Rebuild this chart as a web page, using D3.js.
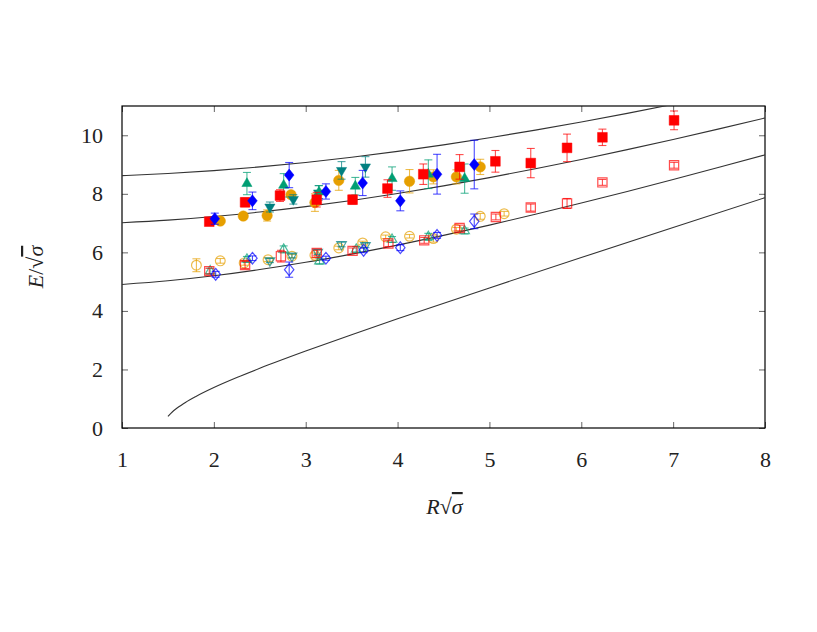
<!DOCTYPE html>
<html>
<head>
<meta charset="utf-8">
<script src="https://cdn.jsdelivr.net/npm/d3@7"></script>
<style>
  body { margin: 0; background: #fff; }
  svg text { font-family: "Liberation Serif", "DejaVu Serif", serif; }
</style>
</head>
<body>
<svg id="chart" width="817" height="632"></svg>
<script>
// string levels
const curveX0 = [1.5, 1.55, 1.6, 1.7, 1.8, 2.0, 2.25, 2.5, 3, 3.5, 4, 5, 6, 7, 8];
const curveY0 = [0.395, 0.555, 0.683, 0.892, 1.07, 1.381, 1.723, 2.039, 2.628, 3.187, 3.729, 4.786, 5.823, 6.849, 7.868];
const curveX = [1, 1.5, 2, 2.5, 3, 3.5, 4, 4.5, 5, 5.5, 6, 6.5, 7, 7.5, 8];
const curveY1 = [4.903, 5.029, 5.2, 5.412, 5.66, 5.941, 6.248, 6.58, 6.931, 7.3, 7.684, 8.08, 8.488, 8.905, 9.33];
const curveY2 = [7.012, 7.101, 7.223, 7.377, 7.561, 7.773, 8.011, 8.272, 8.554, 8.856, 9.174, 9.509, 9.857, 10.219, 10.591];
const curveY3 = [8.62, 8.692, 8.792, 8.919, 9.072, 9.249, 9.45, 9.672, 9.915, 10.176, 10.455, 10.749, 11.059, 11.38, 11.7];

// filled: excited states
const redX = [1.95, 2.34, 2.72, 3.12, 3.51, 3.89, 4.28, 4.675, 5.065, 5.45, 5.845, 6.23, 7.01];
const redY = [7.05, 7.71, 7.94, 7.80, 7.80, 8.18, 8.67, 8.92, 9.11, 9.05, 9.57, 9.93, 10.51];
const redE = [0.05, 0.15, 0.2, 0.25, 0.15, 0.3, 0.35, 0.42, 0.37, 0.5, 0.47, 0.28, 0.32];

const blueX = [2.01, 2.42, 2.82, 3.22, 3.62, 4.03, 4.43, 4.835];
const blueY = [7.15, 7.76, 8.64, 8.08, 8.37, 7.76, 8.67, 9.0];
const blueE = [0.19, 0.3, 0.43, 0.26, 0.43, 0.34, 0.68, 0.83];

const greenX = [2.36, 2.76, 3.145, 3.54, 3.94, 4.335, 4.73];
const greenY = [8.35, 8.29, 8.06, 8.26, 8.52, 8.67, 8.52];
const greenE = [0.38, 0.4, 0.22, 0.3, 0.4, 0.49, 0.5];

const tealX = [2.61, 2.865, 3.14, 3.39, 3.65];
const tealY = [7.55, 7.81, 8.03, 8.80, 8.92];
const tealE = [0.17, 0.16, 0.25, 0.3, 0.35];

const orangeX = [2.07, 2.32, 2.58, 2.84, 3.10, 3.36, 4.13, 4.39, 4.64, 4.90];
const orangeY = [7.07, 7.24, 7.26, 7.97, 7.70, 8.46, 8.43, 8.58, 8.58, 8.92];
const orangeE = [0.05, 0.1, 0.19, 0.1, 0.3, 0.34, 0.4, 0.24, 0.24, 0.26];

// open: lower states
const redOX = [1.95, 2.34, 2.73, 3.12, 3.51, 3.90, 4.29, 4.675, 5.07, 5.45, 5.845, 6.23, 7.01];
const redOY = [5.36, 5.57, 5.87, 5.98, 6.05, 6.30, 6.41, 6.83, 7.21, 7.53, 7.67, 8.39, 8.975];
const redOE = [0.1, 0.12, 0.2, 0.1, 0.1, 0.1, 0.1, 0.1, 0.1, 0.12, 0.17, 0.1, 0.1];

const blueOX = [2.02, 2.42, 2.82, 3.22, 3.63, 4.03, 4.43, 4.835];
const blueOY = [5.25, 5.80, 5.41, 5.80, 6.07, 6.16, 6.58, 7.06];
const blueOE = [0.1, 0.08, 0.26, 0.07, 0.08, 0.1, 0.1, 0.25];

const greenOX = [1.96, 2.36, 2.76, 3.15, 3.55, 3.94, 4.335, 4.73];
const greenOY = [5.36, 5.76, 6.10, 5.70, 6.10, 6.44, 6.53, 6.73];
const greenOE = [0.1, 0.1, 0.12, 0.1, 0.1, 0.1, 0.12, 0.1];

const tealOX = [2.61, 2.85, 3.13, 3.39, 3.65];
const tealOY = [5.72, 5.88, 6.01, 6.27, 6.24];
const tealOE = [0.07, 0.07, 0.08, 0.08, 0.08];

const orangeOX = [1.81, 2.07, 2.33, 2.59, 2.85, 3.10, 3.36, 3.62, 3.87, 4.13, 4.39, 4.64, 4.90, 5.16];
const orangeOY = [5.56, 5.71, 5.64, 5.75, 5.87, 5.90, 6.15, 6.32, 6.53, 6.55, 6.47, 6.79, 7.23, 7.32];
const orangeOE = [0.22, 0.08, 0.08, 0.06, 0.06, 0.08, 0.06, 0.06, 0.06, 0.06, 0.12, 0.06, 0.1, 0.08];

const xTicks = [1, 2, 3, 4, 5, 6, 7, 8];
const yTicks = [0, 2, 4, 6, 8, 10];

const svg = d3.select('#chart'),
  margin = { top: 106, right: 52, bottom: 204, left: 122 },
  width = +svg.attr('width') - margin.left - margin.right,
  height = +svg.attr('height') - margin.top - margin.bottom,
  g = svg.append('g').attr('transform', `translate(${margin.left},${margin.top})`);

const x = d3.scaleLinear().domain([1, 8]).range([0, width]);
const y = d3.scaleLinear().domain([0, 11]).range([height, 0]);

svg.append('defs').append('clipPath').attr('id', 'clip')
  .append('rect').attr('width', width).attr('height', height);

// ticks on all four sides, pointing inward
const tickLen = 6;
g.append('g').attr('transform', `translate(0,${height})`)
  .call(d3.axisBottom(x).tickValues(xTicks).tickSize(-tickLen).tickPadding(23).tickFormat(d3.format('d')));
g.append('g')
  .call(d3.axisTop(x).tickValues(xTicks).tickSize(-tickLen).tickFormat(''));
g.append('g')
  .call(d3.axisLeft(y).tickValues(yTicks).tickSize(-tickLen).tickPadding(19).tickFormat(d3.format('d')));
g.append('g').attr('transform', `translate(${width},0)`)
  .call(d3.axisRight(y).tickValues(yTicks).tickSize(-tickLen).tickFormat(''));

g.selectAll('.domain').remove();
g.selectAll('.tick line').attr('stroke', '#666');
g.selectAll('.tick text').attr('font-size', 22).attr('fill', '#222');

g.append('rect').attr('width', width).attr('height', height)
  .attr('fill', 'none').attr('stroke', '#000').attr('stroke-width', 1.2);

// curves
const line = d3.line().x(d => x(d[0])).y(d => y(d[1])).curve(d3.curveMonotoneX);
const curves = [
  d3.zip(curveX0, curveY0),
  d3.zip(curveX, curveY1),
  d3.zip(curveX, curveY2),
  d3.zip(curveX, curveY3)
];
g.append('g').attr('clip-path', 'url(#clip)')
  .selectAll('path').data(curves).enter().append('path')
  .attr('d', line).attr('fill', 'none').attr('stroke', '#333').attr('stroke-width', 1.1);

// marker shapes
const diamond = {
  draw(ctx, size) {
    const h = Math.sqrt(size) * 0.62, w = h * 0.8;
    ctx.moveTo(0, -h); ctx.lineTo(w, 0); ctx.lineTo(0, h); ctx.lineTo(-w, 0); ctx.closePath();
  }
};

const series = [
  { xs: orangeOX, ys: orangeOY, es: orangeOE, color: '#e69f00', type: d3.symbolCircle, size: 75, open: true },
  { xs: tealOX, ys: tealOY, es: tealOE, color: '#008080', type: d3.symbolTriangle, size: 40, rot: 180, open: true },
  { xs: greenOX, ys: greenOY, es: greenOE, color: '#009e73', type: d3.symbolTriangle, size: 40, open: true },
  { xs: redOX, ys: redOY, es: redOE, color: '#ff0000', type: d3.symbolSquare, size: 85, open: true },
  { xs: blueOX, ys: blueOY, es: blueOE, color: '#0000ff', type: diamond, size: 90, open: true },
  { xs: orangeX, ys: orangeY, es: orangeE, color: '#e69f00', type: d3.symbolCircle, size: 85 },
  { xs: tealX, ys: tealY, es: tealE, color: '#008080', type: d3.symbolTriangle, size: 45, rot: 180 },
  { xs: greenX, ys: greenY, es: greenE, color: '#009e73', type: d3.symbolTriangle, size: 45 },
  { xs: redX, ys: redY, es: redE, color: '#ff0000', type: d3.symbolSquare, size: 95 },
  { xs: blueX, ys: blueY, es: blueE, color: '#0000ff', type: diamond, size: 95 }
];

const cap = 4;
series.forEach(s => {
  const pts = s.xs.map((v, i) => ({ x: v, y: s.ys[i], e: s.es[i] }));
  const sg = g.append('g');
  const eb = sg.selectAll('.err').data(pts).enter().append('g')
    .attr('stroke', s.color).attr('stroke-opacity', 0.7).attr('stroke-width', 1.1);
  eb.append('line')
    .attr('x1', d => x(d.x)).attr('x2', d => x(d.x))
    .attr('y1', d => y(d.y - d.e)).attr('y2', d => y(d.y + d.e));
  eb.append('line')
    .attr('x1', d => x(d.x) - cap).attr('x2', d => x(d.x) + cap)
    .attr('y1', d => y(d.y - d.e)).attr('y2', d => y(d.y - d.e));
  eb.append('line')
    .attr('x1', d => x(d.x) - cap).attr('x2', d => x(d.x) + cap)
    .attr('y1', d => y(d.y + d.e)).attr('y2', d => y(d.y + d.e));

  sg.selectAll('.pt').data(pts).enter().append('path')
    .attr('d', d3.symbol().type(s.type).size(s.size))
    .attr('transform', d => `translate(${x(d.x)},${y(d.y)})` + (s.rot ? ` rotate(${s.rot})` : ''))
    .attr('fill', s.open ? 'none' : s.color)
    .attr('stroke', s.color)
    .attr('stroke-opacity', s.open ? 0.7 : 1)
    .attr('stroke-width', s.open ? 1.2 : 0.5);
});

// axis labels
const xl = svg.append('text')
  .attr('x', margin.left + width / 2 + 1).attr('y', 514)
  .attr('text-anchor', 'middle').attr('font-size', 22).attr('fill', '#222');
xl.append('tspan').attr('font-style', 'italic').text('R');
xl.append('tspan').text('√');
xl.append('tspan').attr('font-style', 'italic').attr('text-decoration', 'overline').text('σ');

const yl = svg.append('text')
  .attr('transform', `translate(43,${margin.top + height / 2}) rotate(-90)`)
  .attr('text-anchor', 'middle').attr('font-size', 22).attr('fill', '#222');
yl.append('tspan').attr('font-style', 'italic').text('E');
yl.append('tspan').text('/√');
yl.append('tspan').attr('font-style', 'italic').attr('text-decoration', 'overline').text('σ');
</script>
</body>
</html>
